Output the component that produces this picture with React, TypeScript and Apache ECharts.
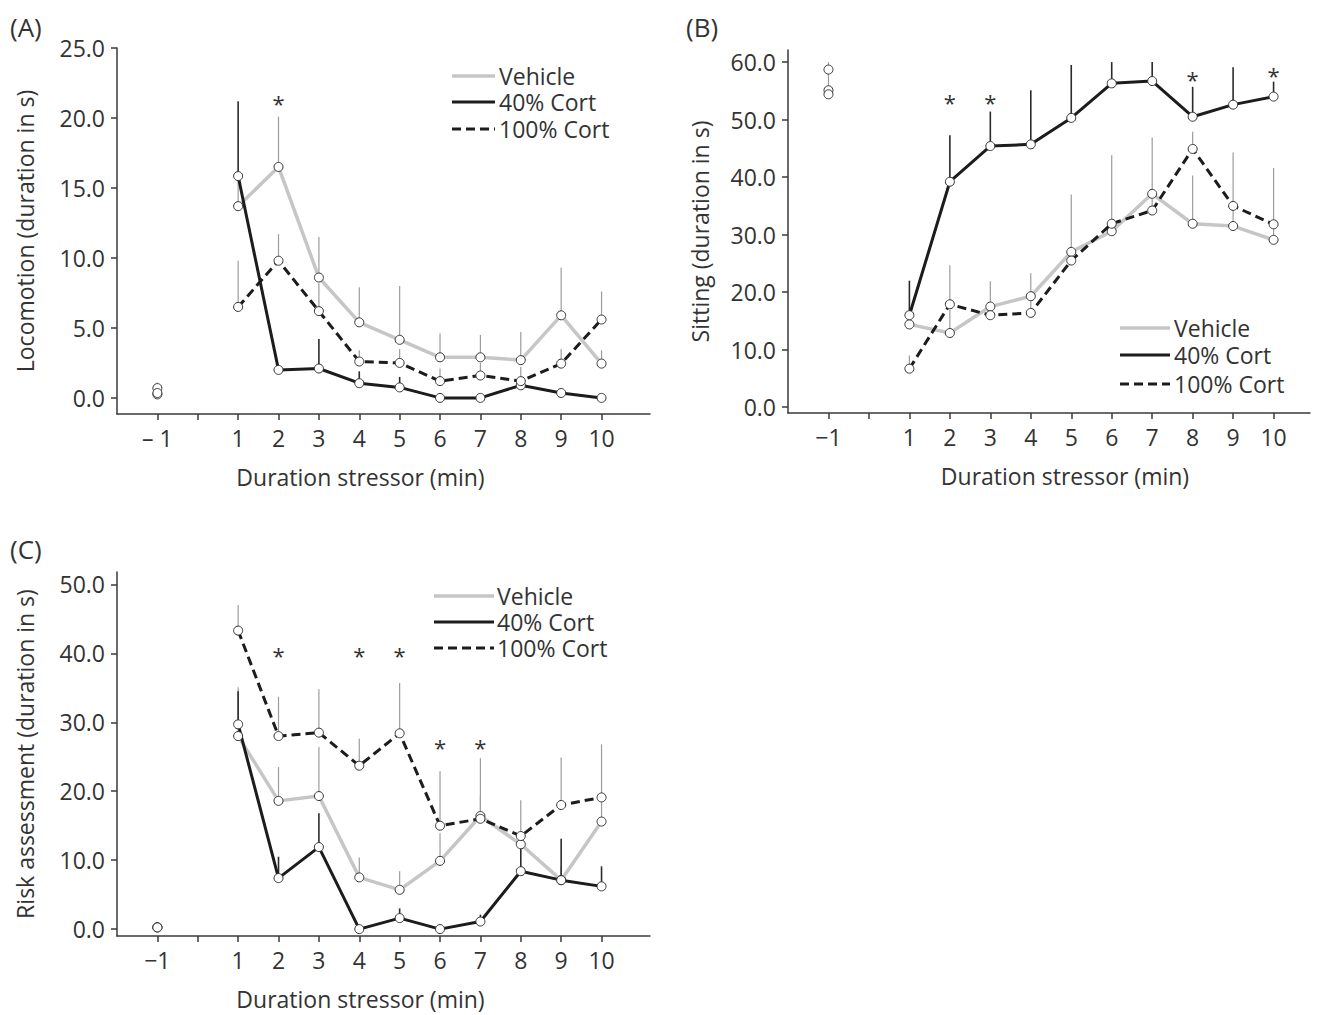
import React, { useEffect, useRef } from 'react';
import * as echarts from 'echarts';

// ---------- shared categories / ticks ----------
const groupNames = ['Vehicle', '40% Cort', '100% Cort'];
const minutes = [1, 2, 3, 4, 5, 6, 7, 8, 9, 10];
const baselineMinute = -1;
const xTickValues = [-1, 0, 1, 2, 3, 4, 5, 6, 7, 8, 9, 10];
const xLabelValues = [-1, 1, 2, 3, 4, 5, 6, 7, 8, 9, 10];

// ---------- (A) Locomotion ----------
const locoTicks = [0, 5, 10, 15, 20, 25];
const locoVehicle = [13.7, 16.5, 8.6, 5.4, 4.15, 2.9, 2.9, 2.7, 5.9, 2.45];
const locoVehicleSem = [2.0, 3.6, 2.9, 2.5, 3.85, 1.7, 1.6, 2.0, 3.4, 0.95];
const loco40 = [15.85, 2.0, 2.1, 1.05, 0.75, 0.0, 0.0, 0.9, 0.35, 0.0];
const loco40Sem = [5.35, 0.3, 2.1, 0.85, 0.75, 0.0, 0.0, 0.3, 0.2, 0.0];
const loco100 = [6.5, 9.8, 6.2, 2.6, 2.5, 1.2, 1.6, 1.2, 2.45, 5.6];
const loco100Sem = [3.3, 1.9, 2.0, 0.8, 1.0, 0.9, 0.9, 1.0, 1.05, 2.0];
const locoBaseline = [0.7, 0.25, 0.35];
const locoBaselineSem = [0.4, 0.0, 0.1];
const locoStarMinutes = [2];
const locoStarLevels = [21.3];

// ---------- (B) Sitting ----------
const sitTicks = [0, 10, 20, 30, 40, 50, 60];
const sitVehicle = [14.4, 12.9, 17.5, 19.3, 27.0, 30.6, 37.1, 31.9, 31.5, 29.1];
const sitVehicleSem = [1.0, 4.0, 4.4, 4.0, 10.0, 1.0, 9.8, 8.4, 3.0, 2.0];
const sit40 = [16.0, 39.2, 45.4, 45.7, 50.3, 56.3, 56.7, 50.5, 52.6, 54.0];
const sit40Sem = [6.0, 8.1, 6.0, 9.4, 9.2, 3.7, 3.3, 5.2, 6.5, 2.6];
const sit100 = [6.7, 17.9, 16.0, 16.4, 25.5, 31.9, 34.2, 44.9, 35.0, 31.8];
const sit100Sem = [2.3, 6.8, 1.5, 2.5, 2.0, 11.9, 2.0, 3.0, 9.3, 9.8];
const sitBaseline = [55.1, 54.4, 58.7];
const sitBaselineSem = [3.5, 0.0, 1.3];
const sitStarMinutes = [2, 3, 8, 10];
const sitStarLevels = [53.6, 53.6, 57.6, 58.2];

// ---------- (C) Risk assessment ----------
const riskTicks = [0, 10, 20, 30, 40, 50];
const riskVehicle = [28.0, 18.6, 19.3, 7.5, 5.7, 9.9, 16.4, 12.3, 7.1, 15.6];
const riskVehicleSem = [7.1, 4.9, 7.1, 2.9, 2.7, 4.0, 3.0, 1.0, 2.0, 3.0];
const risk40 = [29.7, 7.4, 11.9, 0.0, 1.6, 0.0, 1.1, 8.4, 7.1, 6.2];
const risk40Sem = [4.8, 3.1, 4.9, 0.0, 1.4, 0.0, 1.0, 4.0, 6.0, 2.9];
const risk100 = [43.3, 28.0, 28.5, 23.7, 28.4, 15.0, 16.0, 13.5, 18.0, 19.1];
const risk100Sem = [3.7, 5.7, 6.3, 3.9, 7.3, 7.9, 8.8, 5.2, 6.9, 7.7];
const riskBaseline = [0.25, 0.25, 0.25];
const riskBaselineSem = [0.0, 0.0, 0.0];
const riskStarMinutes = [2, 4, 5, 6, 7];
const riskStarLevels = [40.2, 40.2, 40.2, 26.8, 26.8];

// ---------- styling ----------
const FONT = '"Open Sans", "Noto Sans", sans-serif';
const TEXT = '#333333';
const AXIS = '#3a3a3a';
const FS = 23;

const groupStyles = [
  { color: '#c6c6c6', width: 3.5, dash: 'solid' as any, errColor: '#9c9c9c', errWidth: 1.2 },
  { color: '#1c1c1c', width: 3, dash: 'solid' as any, errColor: '#2a2a2a', errWidth: 1.6 },
  { color: '#1c1c1c', width: 3, dash: [9, 5] as any, errColor: '#9c9c9c', errWidth: 1.2 },
];

const panels = [
  {
    tag: '(A)', tagX: 10, tagY: 27,
    grid: { left: 117, top: 48, width: 533, height: 366 },
    xMin: -2, xMax: 11.2, yMin: -1.15, yMax: 25, yTicks: locoTicks,
    yName: 'Locomotion (duration in s)', yNameGap: 81, minusLabel: '– 1',
    means: [locoVehicle, loco40, loco100], sems: [locoVehicleSem, loco40Sem, loco100Sem],
    baseline: locoBaseline, baselineSem: locoBaselineSem,
    starMinutes: locoStarMinutes, starLevels: locoStarLevels,
    legend: { x1: 452, x2: 495, tx: 499, ys: [76, 102, 129] },
    xNamePad: [0, 46, 0, 0],
  },
  {
    tag: '(B)', tagX: 686, tagY: 27,
    grid: { left: 788, top: 50, width: 522, height: 363 },
    xMin: -2, xMax: 10.9, yMin: -1, yMax: 62.1, yTicks: sitTicks,
    yName: 'Sitting (duration in s)', yNameGap: 77, minusLabel: '−1',
    means: [sitVehicle, sit40, sit100], sems: [sitVehicleSem, sit40Sem, sit100Sem],
    baseline: sitBaseline, baselineSem: sitBaselineSem,
    starMinutes: sitStarMinutes, starLevels: sitStarLevels,
    legend: { x1: 1120, x2: 1170, tx: 1174, ys: [328, 355, 384] },
    xNamePad: [0, 0, 0, 32],
  },
  {
    tag: '(C)', tagX: 10, tagY: 549,
    grid: { left: 117, top: 572, width: 533, height: 364 },
    xMin: -2, xMax: 11.2, yMin: -1, yMax: 51.8, yTicks: riskTicks,
    yName: 'Risk assessment (duration in s)', yNameGap: 81, minusLabel: '−1',
    means: [riskVehicle, risk40, risk100], sems: [riskVehicleSem, risk40Sem, riskBaselineSem.length ? risk100Sem : risk100Sem],
    baseline: riskBaseline, baselineSem: riskBaselineSem,
    starMinutes: riskStarMinutes, starLevels: riskStarLevels,
    legend: { x1: 434, x2: 494, tx: 497, ys: [596, 622, 648] },
    xNamePad: [0, 46, 0, 0],
  },
];

function buildOption() {
  const grid: any[] = [];
  const xAxis: any[] = [];
  const yAxis: any[] = [];
  const series: any[] = [];
  const graphic: any[] = [];

  panels.forEach((p, i) => {
    grid.push({ ...p.grid });
    xAxis.push({
      gridIndex: i, type: 'value', min: p.xMin, max: p.xMax,
      axisLine: { show: true, onZero: false, lineStyle: { color: AXIS, width: 1.5 } },
      axisTick: { show: true, customValues: xTickValues, length: 6, lineStyle: { color: AXIS, width: 1.5 } },
      axisLabel: {
        customValues: xLabelValues, margin: 12, fontSize: FS, color: TEXT, fontFamily: FONT,
        formatter: (v: number) => (v === -1 ? p.minusLabel : String(v)),
      },
      splitLine: { show: false },
      name: 'Duration stressor (min)', nameLocation: 'middle', nameGap: 51,
      nameTextStyle: { fontSize: FS, color: TEXT, fontFamily: FONT, padding: p.xNamePad },
    });
    yAxis.push({
      gridIndex: i, type: 'value', min: p.yMin, max: p.yMax,
      axisLine: { show: true, onZero: false, lineStyle: { color: AXIS, width: 1.5 } },
      axisTick: { show: true, customValues: p.yTicks, length: 6, lineStyle: { color: AXIS, width: 1.5 } },
      axisLabel: {
        customValues: p.yTicks, margin: 12, fontSize: FS, color: TEXT, fontFamily: FONT,
        formatter: (v: number) => v.toFixed(1),
      },
      splitLine: { show: false },
      name: p.yName, nameLocation: 'middle', nameGap: p.yNameGap,
      nameTextStyle: { fontSize: FS, color: TEXT, fontFamily: FONT },
    });

    groupNames.forEach((name, g) => {
      const st = groupStyles[g];
      const mean = p.means[g];
      const sem = p.sems[g];
      const errData = [[baselineMinute, p.baseline[g], p.baseline[g] + p.baselineSem[g]]].concat(
        minutes.map((m, j) => [m, mean[j], mean[j] + sem[j]])
      );
      series.push({
        type: 'custom', name: name + ' SEM', xAxisIndex: i, yAxisIndex: i, z: 1,
        data: errData, encode: { x: 0, y: [1, 2] }, silent: true,
        renderItem: (params: any, api: any) => {
          const a = api.coord([api.value(0), api.value(1)]);
          const b = api.coord([api.value(0), api.value(2)]);
          return {
            type: 'line',
            shape: { x1: a[0], y1: a[1], x2: b[0], y2: b[1] },
            style: { stroke: st.errColor, lineWidth: st.errWidth },
          };
        },
      });
      series.push({
        type: 'line', name, xAxisIndex: i, yAxisIndex: i, z: g === 0 ? 2 : 3,
        data: minutes.map((m, j) => [m, mean[j]]),
        showSymbol: false, symbol: 'none',
        lineStyle: { color: st.color, width: st.width, type: st.dash, cap: 'butt', join: 'round' },
        itemStyle: { color: st.color },
      });
      series.push({
        type: 'scatter', name: name + ' points', xAxisIndex: i, yAxisIndex: i, z: 4,
        data: [[baselineMinute, p.baseline[g]]].concat(minutes.map((m, j) => [m, mean[j]])),
        symbol: 'circle', symbolSize: 9,
        itemStyle: { color: '#ffffff', borderColor: '#333333', borderWidth: 1, opacity: 1 },
      });
    });

    series.push({
      type: 'custom', name: 'significance', xAxisIndex: i, yAxisIndex: i, z: 5,
      data: p.starMinutes.map((m, j) => [m, p.starLevels[j]]),
      encode: { x: 0, y: 1 },
      renderItem: (params: any, api: any) => {
        const c = api.coord([api.value(0), api.value(1)]);
        return {
          type: 'text', x: c[0], y: c[1] + 3,
          style: { text: '*', fill: TEXT, fontSize: 22, fontFamily: FONT, align: 'center', verticalAlign: 'middle' },
        };
      },
    });

    graphic.push({
      type: 'text', x: p.tagX, y: p.tagY,
      style: { text: p.tag, fill: TEXT, fontSize: 26, fontFamily: FONT, align: 'left', verticalAlign: 'middle' },
    });
    groupNames.forEach((name, g) => {
      const st = groupStyles[g];
      const y = p.legend.ys[g];
      graphic.push({
        type: 'line',
        shape: { x1: p.legend.x1, y1: y, x2: p.legend.x2, y2: y },
        style: { stroke: st.color, lineWidth: st.width, lineDash: st.dash === 'solid' ? null : st.dash },
      });
      graphic.push({
        type: 'text', x: p.legend.tx, y,
        style: {
          text: name, fill: TEXT, fontSize: FS, fontFamily: FONT, lineHeight: 22,
          align: 'left', verticalAlign: 'middle',
        },
      });
    });
  });

  return {
    animation: false,
    backgroundColor: '#ffffff',
    grid, xAxis, yAxis, series, graphic,
  };
}

export default function App() {
  const ref = useRef<HTMLDivElement>(null);
  useEffect(() => {
    if (!ref.current) return;
    const chart = echarts.init(ref.current, undefined, { renderer: 'svg' });
    chart.setOption(buildOption() as any);
    return () => chart.dispose();
  }, []);
  return (
    <div
      ref={ref}
      style={{ position: 'absolute', left: 0, top: 0, width: 1323, height: 1015, background: '#fff' }}
    />
  );
}
